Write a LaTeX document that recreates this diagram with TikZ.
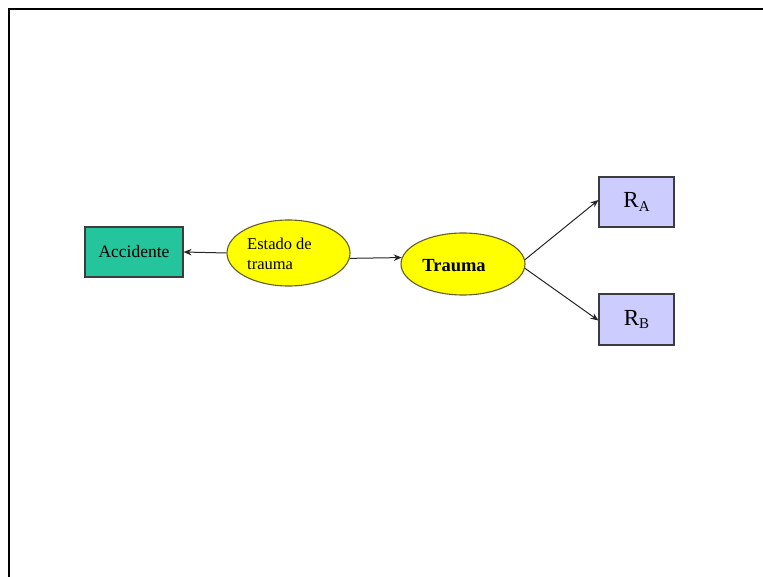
\documentclass[tikz,border=0pt]{standalone}
\usepackage{fontspec}
\setmainfont{Liberation Serif}
\usetikzlibrary{shapes.geometric,arrows.meta}
\definecolor{teal1}{RGB}{36,196,156}
\definecolor{lav}{RGB}{204,204,255}
\definecolor{yel}{RGB}{255,255,0}
\definecolor{olive1}{RGB}{100,95,40}
\definecolor{edge}{RGB}{60,60,60}
\tikzset{
  boxnode/.style={rectangle, draw=edge, line width=1.1pt, inner sep=0pt},
  ellnode/.style={ellipse, fill=yel, draw=olive1, line width=1.1pt, inner sep=0pt},
  txt/.style={inner sep=0pt, align=left},
  conn/.style={draw=black!85, line width=1pt, -{Stealth[length=8pt,width=6.5pt]}}
}
\newcommand{\subtxt}[1]{\raisebox{-0.3ex}{\fontsize{15}{15}\selectfont #1}}
\begin{document}
\begin{tikzpicture}[x=1pt,y=-1pt]
\useasboundingbox (0,0) rectangle (763,577);
\fill[white] (0,0) rectangle (763,577);
% frame
\draw[line width=2pt,black] (9,577) -- (9,9) -- (763,9);
% nodes
\node[boxnode, fill=teal1, minimum width=98pt, minimum height=50pt, font=\fontsize{17.5}{18}\selectfont] (acc) at (134,252) {Accidente};
\node[ellnode, minimum width=123pt, minimum height=66pt] (est) at (288.5,253) {};
\node[txt, font=\fontsize{16.5}{20}\selectfont] (estl) at ([xshift=-9pt,yshift=-1pt]est.center) {Estado de\\trauma};
\node[ellnode, minimum width=124pt, minimum height=62pt] (tra) at (463,264) {};
\node[txt, font=\bfseries\fontsize{18.5}{20}\selectfont] (tral) at ([xshift=-9pt,yshift=-2pt]tra.center) {Trauma};
\node[boxnode, fill=lav, minimum width=75pt, minimum height=50pt, font=\fontsize{23}{24}\selectfont] (ra) at (636.5,202) {R\subtxt{A}};
\node[boxnode, fill=lav, minimum width=75pt, minimum height=51pt, font=\fontsize{23}{24}\selectfont] (rb) at (636.5,319.5) {R\subtxt{B}};
% connectors
\draw[conn] (est.west) -- (acc.east);
\draw[conn] (est.-5) -- (tra.174);
\draw[conn] (tra.4) -- ([yshift=2pt]ra.west);
\draw[conn] (tra.-4) -- ([yshift=-1pt]rb.west);
\end{tikzpicture}
\end{document}
